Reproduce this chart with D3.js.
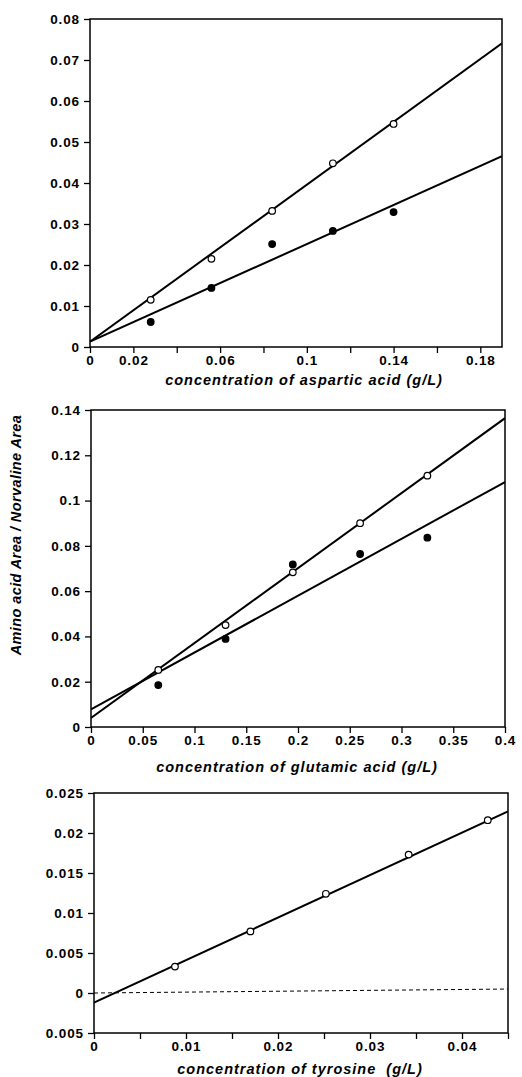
<!DOCTYPE html>
<html>
<head>
<meta charset="utf-8">
<script src="https://cdn.jsdelivr.net/npm/d3@7"></script>
<style>
  body { margin: 0; background: #fff; }
  svg text { font-family: "Liberation Sans", Arial, sans-serif; fill: #000; }
  .tick text { font-size: 13.5px; font-weight: bold; letter-spacing: 0.9px; }
  .title { font-size: 14.5px; font-weight: bold; font-style: italic; letter-spacing: 1px; white-space: pre; }
</style>
</head>
<body>
<div id="chart"></div>
<script>
// aspartic acid
const aspX = [0.028, 0.056, 0.084, 0.112, 0.140];
const aspOpen = [0.0115, 0.0215, 0.0332, 0.0448, 0.0544];
const aspFilled = [0.0061, 0.0144, 0.0251, 0.0283, 0.0329];
const aspFitOpen = [0.0013, 0.383];   // intercept, slope
const aspFitFilled = [0.0013, 0.238];
const aspXTicks = [0, 0.02, 0.04, 0.06, 0.08, 0.1, 0.12, 0.14, 0.16, 0.18];
const aspXLabels = [0, 0.02, 0.06, 0.1, 0.14, 0.18];
const aspYTicks = [0, 0.01, 0.02, 0.03, 0.04, 0.05, 0.06, 0.07, 0.08];

// glutamic acid
const gluX = [0.065, 0.13, 0.195, 0.26, 0.325];
const gluOpen = [0.0252, 0.045, 0.0683, 0.090, 0.111];
const gluFilled = [0.0185, 0.0389, 0.0718, 0.0764, 0.0836];
const gluFitOpen = [0.004, 0.331];
const gluFitFilled = [0.0078, 0.251];
const gluXTicks = [0, 0.05, 0.1, 0.15, 0.2, 0.25, 0.3, 0.35, 0.4];
const gluYTicks = [0, 0.02, 0.04, 0.06, 0.08, 0.1, 0.12, 0.14];

// tyrosine
const tyrX = [0.0088, 0.0170, 0.0252, 0.0342, 0.0428];
const tyrOpen = [0.0033, 0.0077, 0.0124, 0.0173, 0.0216];
const tyrFit = [-0.0012, 0.531];
const tyrBase = [0, 0.011];
const tyrXTicks = [0, 0.005, 0.01, 0.015, 0.02, 0.025, 0.03, 0.035, 0.04, 0.045];
const tyrXLabels = [0, 0.01, 0.02, 0.03, 0.04];
const tyrYTicks = [-0.005, 0, 0.005, 0.01, 0.015, 0.02, 0.025];

const yTitle = "Amino acid Area / Norvaline Area";

const svg = d3.select("#chart").append("svg")
  .attr("width", 522)
  .attr("height", 1077);

// the original prints the bottom tick without its minus sign
function fmt(d) {
  return String(+Math.abs(d).toFixed(4));
}

function drawPanel(p) {
  const x = d3.scaleLinear().domain(p.xDomain).range([p.left, p.right]);
  const y = d3.scaleLinear().domain(p.yDomain).range([p.bottom, p.top]);
  const g = svg.append("g");

  // frame
  g.append("rect")
    .attr("x", p.left).attr("y", p.top)
    .attr("width", p.right - p.left).attr("height", p.bottom - p.top)
    .attr("fill", "none").attr("stroke", "#000").attr("stroke-width", 1.5);

  const xAxis = d3.axisBottom(x).tickValues(p.xTicks).tickSize(6).tickPadding(2)
    .tickFormat(d => p.xLabels.some(v => Math.abs(v - d) < 1e-9) ? fmt(d) : "");
  g.append("g")
    .attr("transform", `translate(0,${p.bottom})`)
    .call(xAxis)
    .call(a => a.select(".domain").remove())
    .call(a => a.selectAll("line").attr("stroke-width", 1.3));

  const yAxis = d3.axisLeft(y).tickValues(p.yTicks).tickSize(6).tickPadding(4)
    .tickFormat(fmt);
  g.append("g")
    .attr("transform", `translate(${p.left},0)`)
    .call(yAxis)
    .call(a => a.select(".domain").remove())
    .call(a => a.selectAll("line").attr("stroke-width", 1.3));

  const clipId = "clip" + p.id;
  g.append("clipPath").attr("id", clipId)
    .append("rect")
    .attr("x", p.left).attr("y", p.top)
    .attr("width", p.right - p.left).attr("height", p.bottom - p.top);

  const line = d3.line().x(d => x(d[0])).y(d => y(d[1]));
  const x1 = p.xDomain[1];

  p.fits.forEach(f => {
    g.append("path")
      .attr("clip-path", `url(#${clipId})`)
      .datum([[0, f.c[0]], [x1, f.c[0] + f.c[1] * x1]])
      .attr("d", line)
      .attr("fill", "none")
      .attr("stroke", "#000")
      .attr("stroke-width", f.dash ? 1 : 2)
      .attr("stroke-dasharray", f.dash ? "4,3" : null);
  });

  p.series.forEach(s => {
    g.selectAll(null)
      .data(s.ys.map((v, i) => [p.xs[i], v]))
      .enter().append("circle")
      .attr("cx", d => x(d[0]))
      .attr("cy", d => y(d[1]))
      .attr("r", 3.3)
      .attr("fill", s.filled ? "#000" : "#fff")
      .attr("stroke", "#000")
      .attr("stroke-width", 1.2);
  });

  g.append("text")
    .attr("class", "title")
    .attr("x", p.titleX).attr("y", p.titleY)
    .attr("text-anchor", "middle")
    .text(p.title);
}

drawPanel({
  id: 1, left: 90, right: 502, top: 19, bottom: 347,
  xDomain: [0, 0.19], yDomain: [0, 0.08],
  xTicks: aspXTicks, xLabels: aspXLabels, yTicks: aspYTicks,
  xs: aspX,
  series: [{ ys: aspOpen, filled: false }, { ys: aspFilled, filled: true }],
  fits: [{ c: aspFitOpen }, { c: aspFitFilled }],
  title: "concentration of aspartic acid (g/L)", titleX: 304, titleY: 385
});

drawPanel({
  id: 2, left: 91, right: 505, top: 410, bottom: 727,
  xDomain: [0, 0.4], yDomain: [0, 0.14],
  xTicks: gluXTicks, xLabels: gluXTicks, yTicks: gluYTicks,
  xs: gluX,
  series: [{ ys: gluOpen, filled: false }, { ys: gluFilled, filled: true }],
  fits: [{ c: gluFitOpen }, { c: gluFitFilled }],
  title: "concentration of glutamic acid (g/L)", titleX: 297, titleY: 772
});

drawPanel({
  id: 3, left: 94, right: 508, top: 793, bottom: 1033,
  xDomain: [0, 0.045], yDomain: [-0.005, 0.025],
  xTicks: tyrXTicks, xLabels: tyrXLabels, yTicks: tyrYTicks,
  xs: tyrX,
  series: [{ ys: tyrOpen, filled: false }],
  fits: [{ c: tyrBase, dash: true }, { c: tyrFit }],
  title: "concentration of tyrosine  (g/L)", titleX: 300, titleY: 1074
});

svg.append("text")
  .attr("transform", "translate(21,535) rotate(-90)")
  .attr("text-anchor", "middle")
  .style("font-size", "14.5px")
  .style("font-weight", "bold")
  .style("font-style", "italic")
  .style("letter-spacing", "0.4px")
  .text(yTitle);
</script>
</body>
</html>
